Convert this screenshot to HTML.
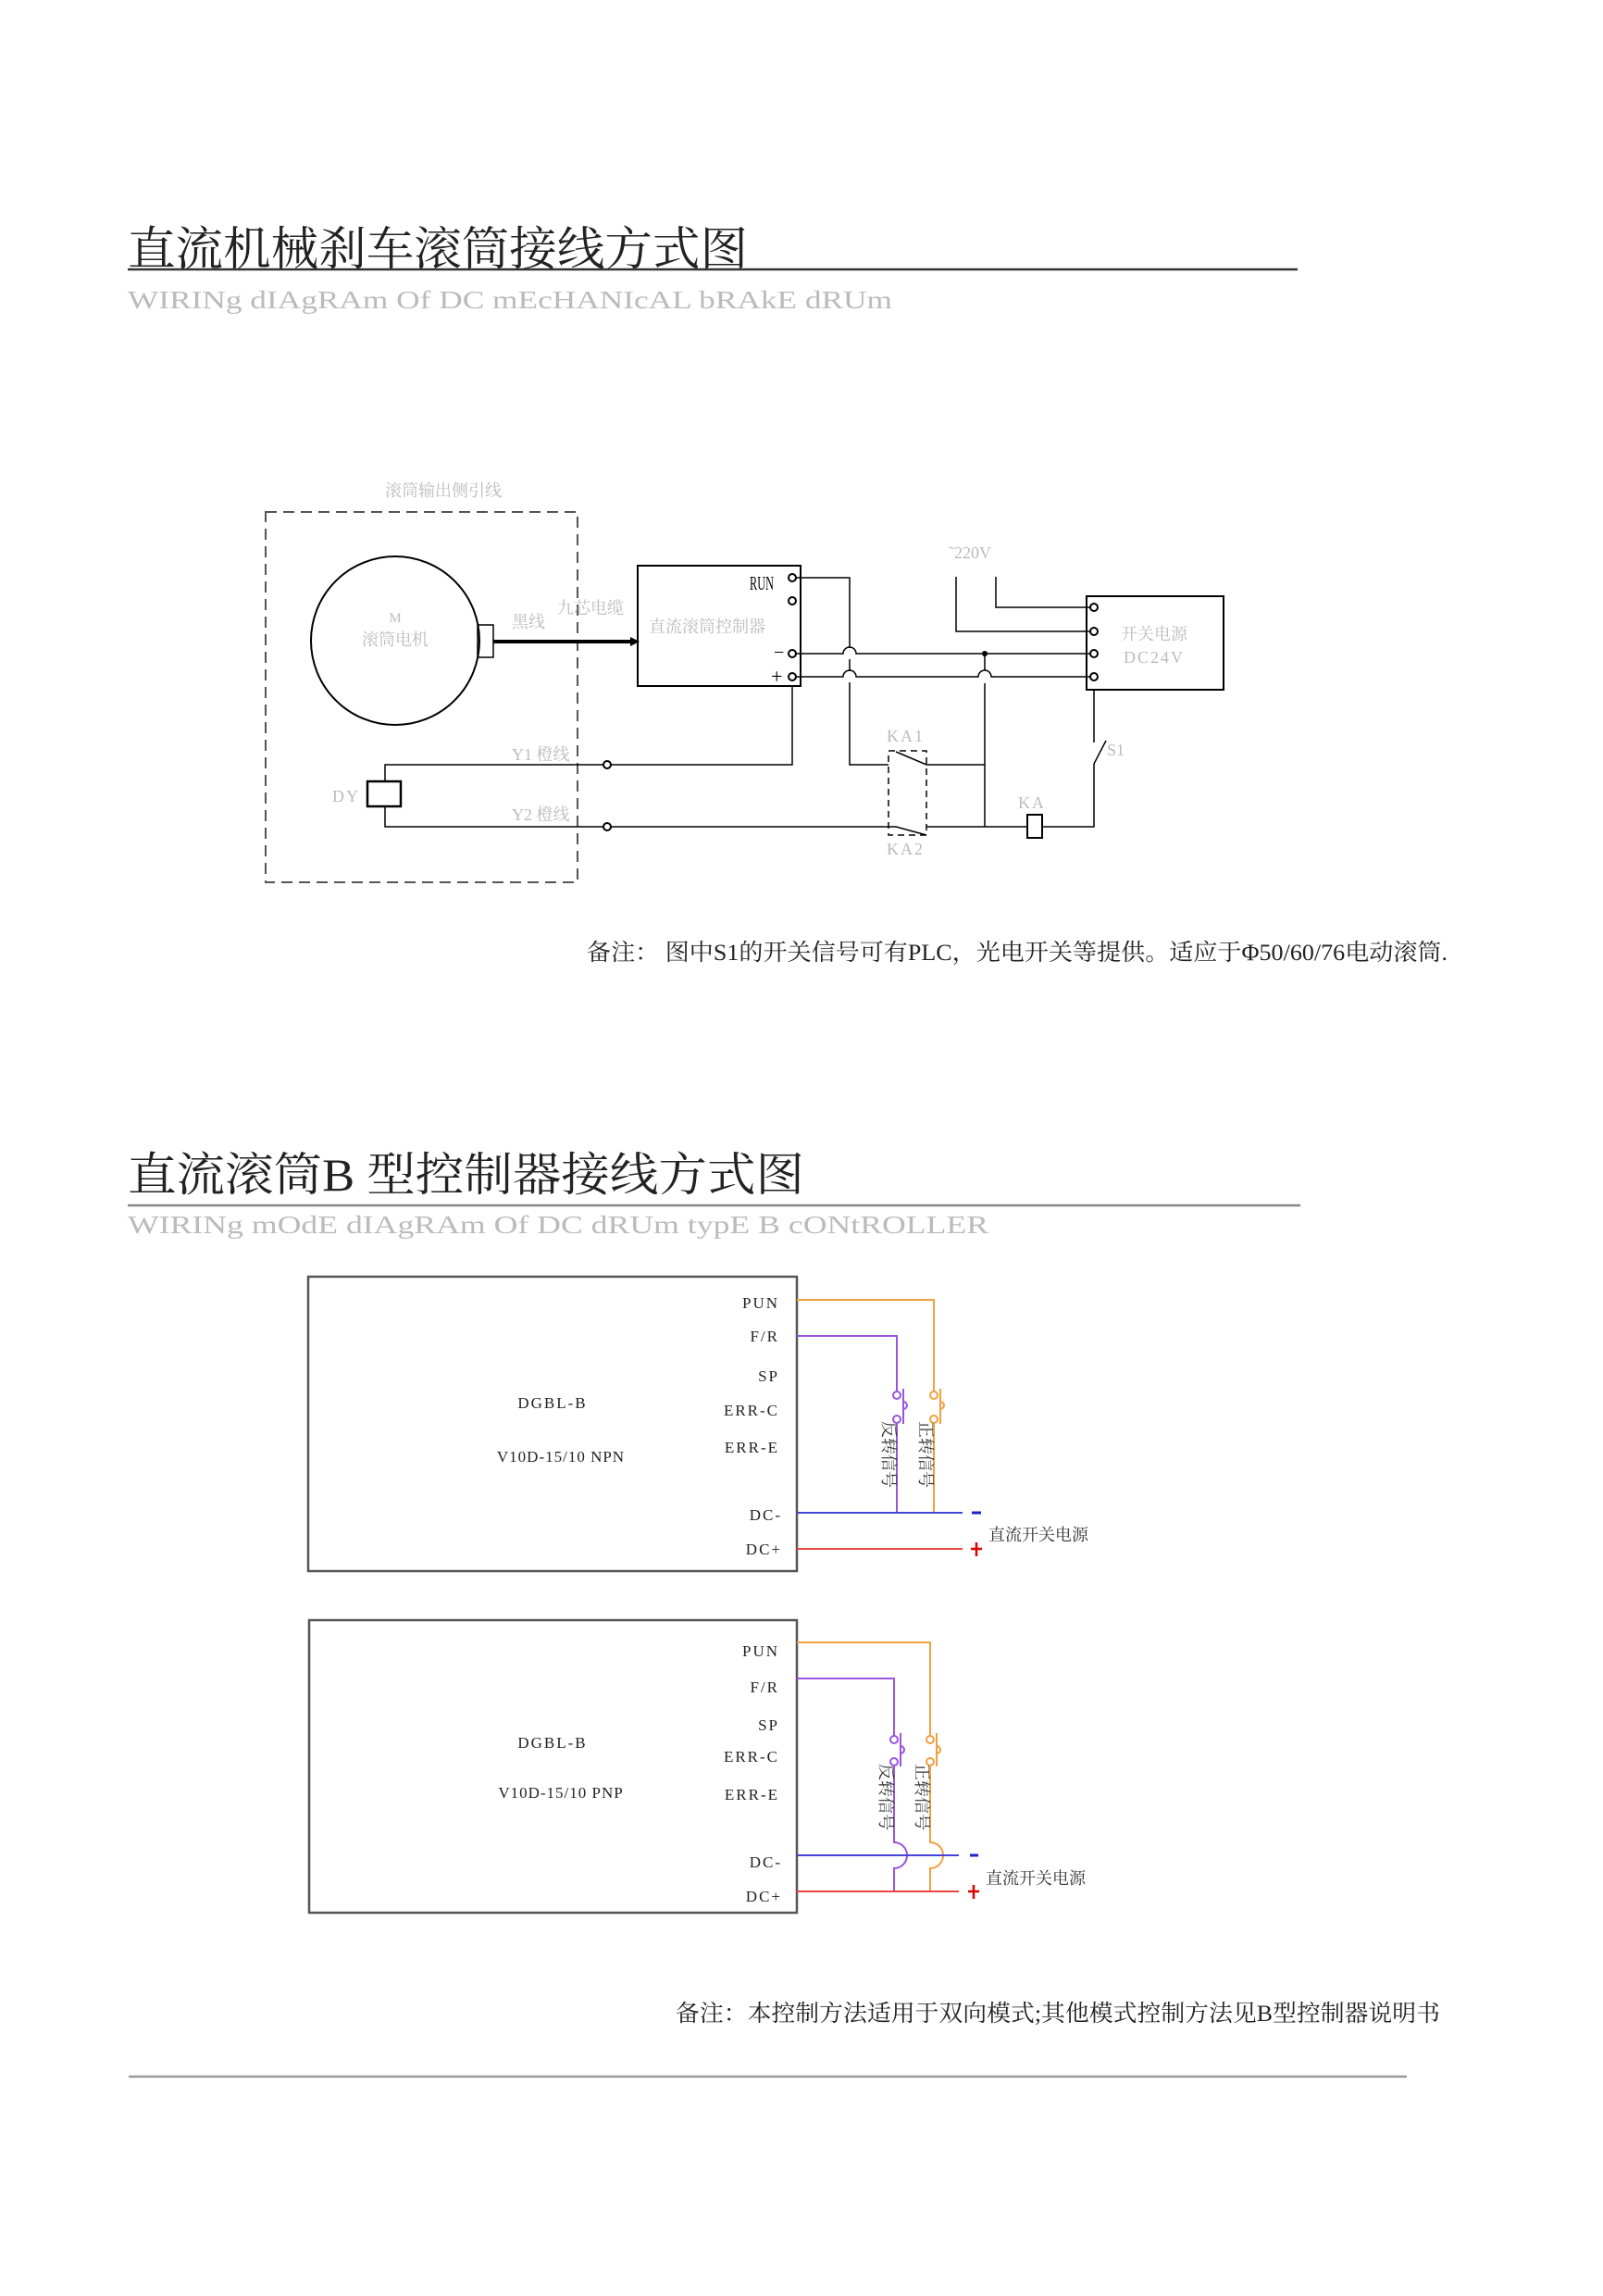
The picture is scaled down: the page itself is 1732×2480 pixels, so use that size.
<!DOCTYPE html>
<html><head><meta charset="utf-8"><style>
html,body{margin:0;padding:0;background:#fff;}
svg{display:block;}
text{font-family:"Liberation Serif","Noto Serif CJK SC","Noto Sans CJK SC",serif;}
</style></head><body>
<svg width="1732" height="2480" viewBox="0 0 1732 2480" xmlns="http://www.w3.org/2000/svg">
<!-- Title 1 -->
<text x="138" y="286" font-size="50" fill="#222" textLength="670" lengthAdjust="spacingAndGlyphs">直流机械刹车滚筒接线方式图</text>
<line x1="138" y1="291" x2="1402" y2="291" stroke="#333" stroke-width="2.5"/>
<text x="138" y="333" font-size="27" fill="#bbb" textLength="826" lengthAdjust="spacingAndGlyphs">WIRINg dIAgRAm Of DC mEcHANIcAL bRAkE dRUm</text>

<!-- Diagram 1 -->
<g fill="none" stroke="#000" stroke-width="2">
<rect x="287" y="553" width="337" height="400" stroke="#555" stroke-dasharray="12,7"/>
<circle cx="427" cy="692" r="91"/>
<rect x="516" y="675" width="17" height="35" stroke-width="1.5"/>
<line x1="533" y1="693" x2="685" y2="693" stroke-width="4"/>
<rect x="689" y="611" width="176" height="130"/>
<rect x="1174" y="644" width="148" height="101"/>
<polyline points="860,624 918,624 918,700" stroke-width="1.5"/>
<path d="M918,712 V725 M918,737 V826 H960" stroke-width="1.5"/>
<path d="M860,706 H911 A7,7 0 0 1 925,706 H1182" stroke-width="1.5"/>
<path d="M860,731 H911 A7,7 0 0 1 925,731 H1057 A7,7 0 0 1 1071,731 H1182" stroke-width="1.5"/>
<path d="M1064,706 V724 M1064,738 V893" stroke-width="1.5"/>
<path d="M1033,623 V682 H1182 M1076,623 V656 H1182" stroke-width="1.5"/>
<path d="M856,741 V826 H416 V844 M416,871 V893 H960" stroke-width="1.5"/>
<rect x="397" y="844" width="36" height="27" stroke-width="2.5"/>
<path d="M968,812 L1001,826 H1064" stroke-width="1.5"/>
<path d="M960,893 H968 L1001,902 M1001,893 H1110" stroke-width="1.5"/>
<rect x="960" y="811" width="41" height="91" stroke-width="1.5" stroke-dasharray="7,5"/>
<rect x="1110" y="880" width="16" height="25" stroke-width="2"/>
<path d="M1126,893 H1182 V825 L1195,800 M1182,802 V745" stroke-width="1.5"/>
</g>
<g fill="#fff" stroke="#000" stroke-width="2">
<circle cx="856" cy="624" r="4"/><circle cx="856" cy="649" r="4"/><circle cx="856" cy="706" r="4"/><circle cx="856" cy="731" r="4"/>
<circle cx="1182" cy="656" r="4"/><circle cx="1182" cy="682" r="4"/><circle cx="1182" cy="706" r="4"/><circle cx="1182" cy="731" r="4"/>
<circle cx="656" cy="826" r="4"/><circle cx="656" cy="893" r="4"/>
</g>
<circle cx="1064" cy="706" r="3" fill="#000"/>
<polygon points="691,693 681,688 681,698" fill="#000"/>
<g fill="#bbb" font-size="18">
<text x="479" y="536" text-anchor="middle">滚筒输出侧引线</text>
<text x="427" y="672" text-anchor="middle" font-size="15">M</text>
<text x="427" y="697" text-anchor="middle">滚筒电机</text>
<text x="553" y="678">黑线</text>
<text x="602" y="663">九芯电缆</text>
<text x="701" y="683">直流滚筒控制器</text>
<text x="1025" y="603">˜220V</text>
<text x="1247" y="691" text-anchor="middle">开关电源</text>
<text x="1247" y="716" text-anchor="middle" letter-spacing="2">DC24V</text>
<text x="553" y="821">Y1 橙线</text>
<text x="553" y="886">Y2 橙线</text>
<text x="359" y="866" letter-spacing="2">DY</text>
<text x="958" y="801" letter-spacing="2">KA1</text>
<text x="958" y="923" letter-spacing="2">KA2</text>
<text x="1100" y="873" letter-spacing="2">KA</text>
<text x="1196" y="816">S1</text>
</g>
<text x="810" y="637" font-size="21" fill="#000" textLength="26" lengthAdjust="spacingAndGlyphs">RUN</text>
<text x="836" y="711" font-size="20" fill="#000">−</text>
<text x="833" y="738" font-size="22" fill="#000">+</text>

<text x="634" y="1037" font-size="25" fill="#222" textLength="930" lengthAdjust="spacingAndGlyphs">备注：  图中S1的开关信号可有PLC，光电开关等提供。适应于Φ50/60/76电动滚筒.</text>

<!-- Title 2 -->
<text x="138" y="1286" font-size="50" fill="#222" textLength="731" lengthAdjust="spacingAndGlyphs">直流滚筒B 型控制器接线方式图</text>
<line x1="138" y1="1302" x2="1405" y2="1302" stroke="#888" stroke-width="2.5"/>
<text x="138" y="1332" font-size="27" fill="#bbb" textLength="930" lengthAdjust="spacingAndGlyphs">WIRINg mOdE dIAgRAm Of DC dRUm typE B cONtROLLER</text>

<!-- Box 1 -->
<rect x="333" y="1379" width="528" height="318" fill="none" stroke="#555" stroke-width="2.5"/>
<g font-size="17" fill="#222" text-anchor="end" letter-spacing="2">
<text x="842" y="1413">PUN</text><text x="842" y="1449">F/R</text><text x="842" y="1492">SP</text>
<text x="842" y="1529">ERR-C</text><text x="842" y="1569">ERR-E</text><text x="845" y="1642">DC-</text><text x="845" y="1679">DC+</text>
</g>
<text x="597" y="1521" font-size="17" fill="#222" text-anchor="middle" letter-spacing="2">DGBL-B</text>
<text x="606" y="1579" font-size="17" fill="#222" text-anchor="middle" letter-spacing="1">V10D-15/10 NPN</text>
<g fill="none" stroke-width="2">
<path d="M861,1404 H1009 V1503 M1009,1537 V1634" stroke="#f0a040"/>
<path d="M861,1443 H969 V1503 M969,1537 V1634" stroke="#9955dd"/>
<circle cx="1009" cy="1507" r="4" stroke="#f0a040"/><circle cx="1009" cy="1533" r="4" stroke="#f0a040"/>
<path d="M1016,1500 V1538 M1016,1514 a4,4 0 0 1 0,8" stroke="#f0a040"/>
<circle cx="969" cy="1507" r="4" stroke="#9955dd"/><circle cx="969" cy="1533" r="4" stroke="#9955dd"/>
<path d="M976,1500 V1538 M976,1514 a4,4 0 0 1 0,8" stroke="#9955dd"/>
<line x1="861" y1="1634" x2="1040" y2="1634" stroke="#4444dd"/>
<line x1="861" y1="1673" x2="1040" y2="1673" stroke="#ee4444"/>
<line x1="1050" y1="1634" x2="1060" y2="1634" stroke="#2222cc" stroke-width="3"/>
<path d="M1049,1673 H1061 M1055,1666 V1681" stroke="#dd0000" stroke-width="2.5"/>
</g>
<g font-size="18" fill="#333">
<text transform="translate(954,1535) rotate(90)">反转信号</text>
<text transform="translate(994,1535) rotate(90)">正转信号</text>
<text x="1068" y="1664">直流开关电源</text>
</g>

<!-- Box 2 -->
<rect x="334" y="1750" width="527" height="316" fill="none" stroke="#555" stroke-width="2.5"/>
<g font-size="17" fill="#222" text-anchor="end" letter-spacing="2">
<text x="842" y="1789">PUN</text><text x="842" y="1828">F/R</text><text x="842" y="1869">SP</text>
<text x="842" y="1903">ERR-C</text><text x="842" y="1944">ERR-E</text><text x="845" y="2017">DC-</text><text x="845" y="2054">DC+</text>
</g>
<text x="597" y="1888" font-size="17" fill="#222" text-anchor="middle" letter-spacing="2">DGBL-B</text>
<text x="606" y="1942" font-size="17" fill="#222" text-anchor="middle" letter-spacing="1">V10D-15/10 PNP</text>
<g fill="none" stroke-width="2">
<path d="M861,1774 H1005 V1875 M1005,1907 V1990 a14,14 0 0 1 0,28 V2043" stroke="#f0a040"/>
<path d="M861,1813 H966 V1875 M966,1907 V1990 a14,14 0 0 1 0,28 V2043" stroke="#9955dd"/>
<circle cx="1005" cy="1879" r="4" stroke="#f0a040"/><circle cx="1005" cy="1903" r="4" stroke="#f0a040"/>
<path d="M1012,1872 V1908 M1012,1886 a4,4 0 0 1 0,8" stroke="#f0a040"/>
<circle cx="966" cy="1879" r="4" stroke="#9955dd"/><circle cx="966" cy="1903" r="4" stroke="#9955dd"/>
<path d="M973,1872 V1908 M973,1886 a4,4 0 0 1 0,8" stroke="#9955dd"/>
<line x1="861" y1="2004" x2="1036" y2="2004" stroke="#4444dd"/>
<line x1="861" y1="2043" x2="1036" y2="2043" stroke="#ee4444"/>
<line x1="1048" y1="2004" x2="1057" y2="2004" stroke="#2222cc" stroke-width="3"/>
<path d="M1046,2043 H1058 M1052,2036 V2051" stroke="#dd0000" stroke-width="2.5"/>
</g>
<g font-size="18" fill="#333">
<text transform="translate(951,1905) rotate(90)">反转信号</text>
<text transform="translate(990,1905) rotate(90)">正转信号</text>
<text x="1065" y="2035">直流开关电源</text>
</g>

<text x="730" y="2183" font-size="25" fill="#222" textLength="826" lengthAdjust="spacingAndGlyphs">备注：本控制方法适用于双向模式;其他模式控制方法见B型控制器说明书</text>
<line x1="139" y1="2243" x2="1520" y2="2243" stroke="#999" stroke-width="2.5"/>
</svg>
</body></html>
